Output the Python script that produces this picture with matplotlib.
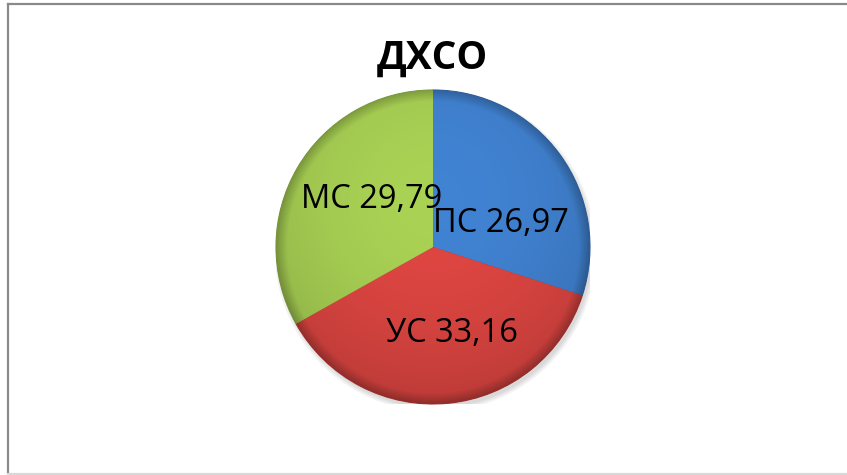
import numpy as np
import matplotlib
matplotlib.use("Agg")
import matplotlib.pyplot as plt
from matplotlib.colors import to_rgb
from matplotlib.lines import Line2D
from matplotlib.patches import Circle

plt.rcParams['font.family'] = ['Open Sans', 'DejaVu Sans']

title = "ДХСО"
categories = ["ПС", "УС", "МС"]
values = [26.97, 33.16, 29.79]
colors = ["#3d7bc6", "#d2423e", "#9fc54f"]

# label placement inside the pie (data units, radius = 1)
label_pos = [(0.43, 0.15), (0.12, -0.55), (-0.39, 0.30)]

fig = plt.figure(figsize=(8.47, 4.75), dpi=100)

# chart frame
fig.add_artist(Line2D([8 / 847, 8 / 847], [1 / 475, 1 - 4 / 475], color="#8a8a8a", lw=1.6))
fig.add_artist(Line2D([8 / 847, 1], [1 - 4 / 475, 1 - 4 / 475], color="#8a8a8a", lw=1.6))
fig.add_artist(Line2D([8 / 847, 1], [1 / 475, 1 / 475], color="#d9d9d9", lw=1.6))

fig.text(432 / 847, 1 - 58 / 475, title, ha="center", va="center",
         fontsize=28, fontweight="bold")

ax = fig.add_axes([276 / 847, 71 / 475, 314 / 847, 314 / 475])

# soft shadow
for k, a in enumerate([0.05, 0.05, 0.05]):
    ax.add_patch(Circle((0.015, -0.025), 1.0 + 0.012 * (2 - k), color="black",
                        alpha=a, lw=0, zorder=0))

wedges, _ = ax.pie(values, colors=colors, startangle=90, counterclock=False,
                   radius=1.0, wedgeprops=dict(linewidth=0.8))

# shading to mimic the bevelled look
n = 500
xs = np.linspace(-1, 1, n)
X, Y = np.meshgrid(xs, xs[::-1])
R = np.sqrt(X ** 2 + Y ** 2)
shade = 1.06 + 0.06 * Y - 0.10 * R ** 2 - 0.22 * np.clip((R - 0.93) / 0.07, 0, 1)

for w, c in zip(wedges, colors):
    rgb = np.array(to_rgb(c))
    w.set_edgecolor(tuple(rgb * 0.75))
    img = np.clip(shade[..., None] * rgb[None, None, :], 0, 1)
    im = ax.imshow(img, extent=(-1, 1, -1, 1), zorder=w.get_zorder() + 0.1,
                   interpolation="bilinear")
    im.set_clip_path(w)

for (x, y), name, v in zip(label_pos, categories, values):
    ax.text(x, y, f"{name} {str(v).replace('.', ',')}", ha="center", va="center",
            fontsize=23.5, color="black", zorder=10)

ax.set_xlim(-1, 1)
ax.set_ylim(-1, 1)
ax.set_aspect("equal")
ax.axis("off")

fig.savefig("out.png", dpi=100)
